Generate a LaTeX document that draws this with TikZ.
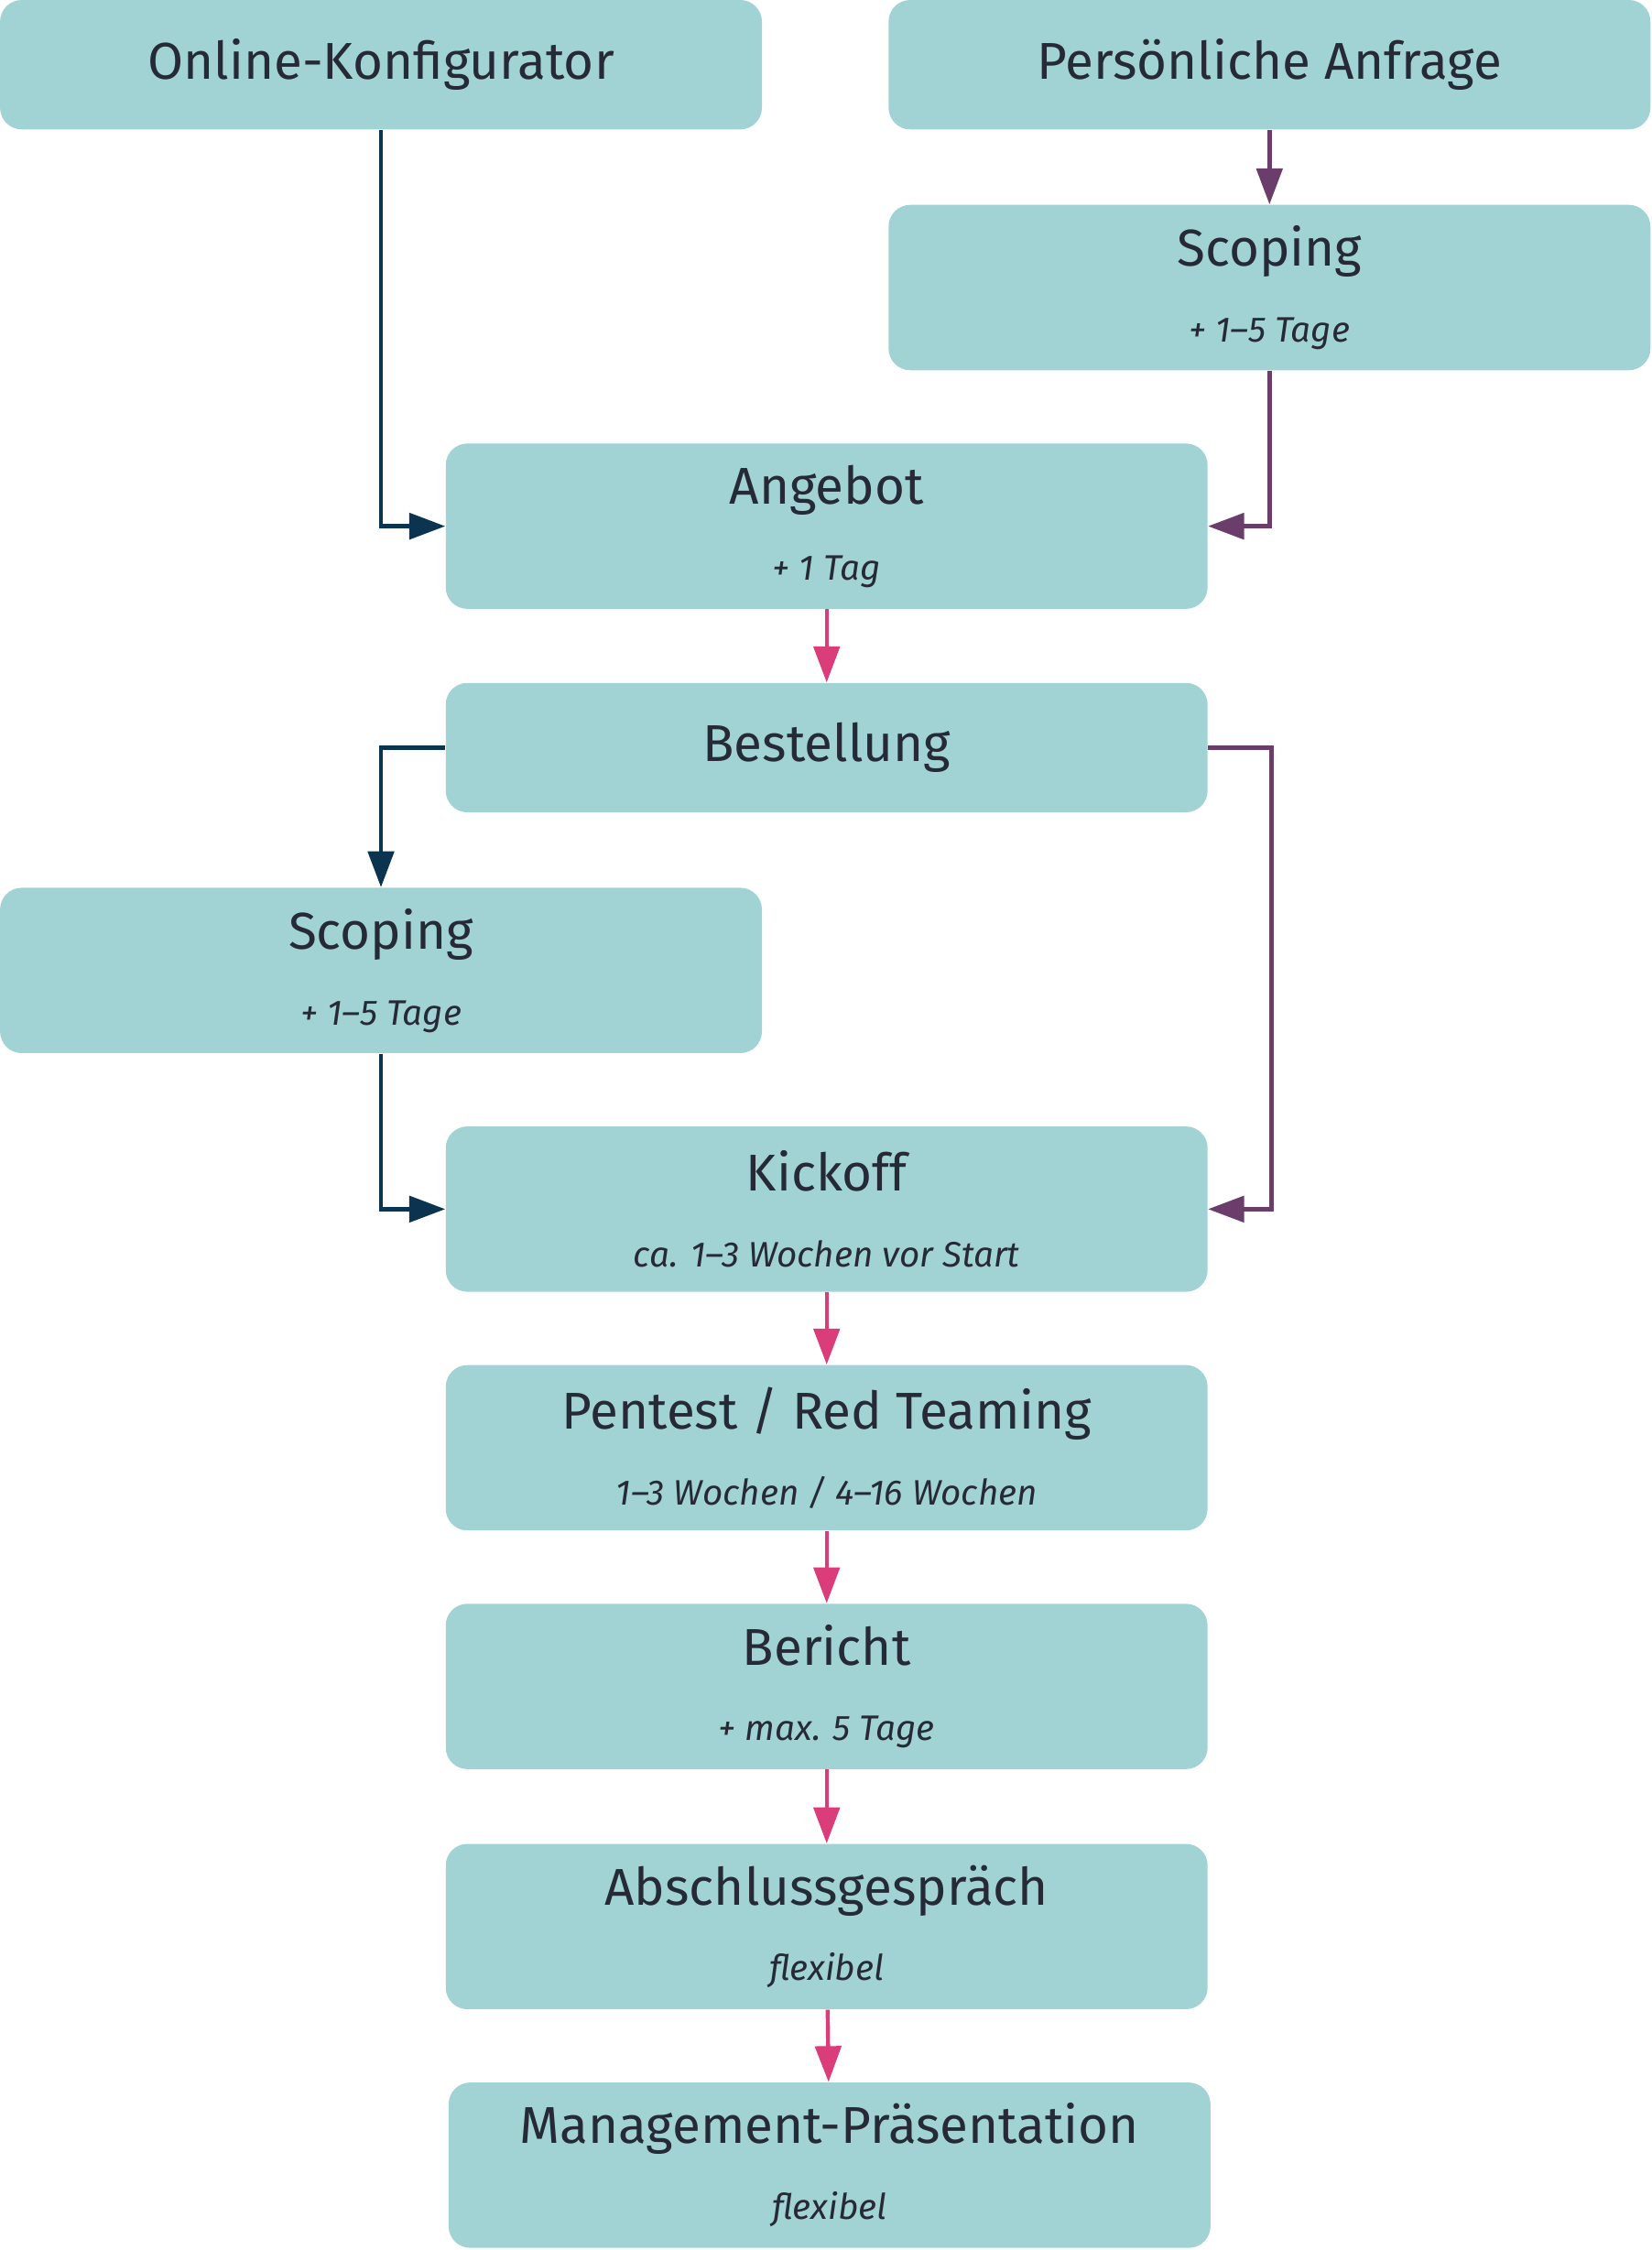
\documentclass[tikz,border=0pt]{standalone}
\usepackage{fontspec}
\setmainfont{Fira Sans}
\usetikzlibrary{arrows.meta, positioning}
\definecolor{boxfill}{HTML}{A2D3D4}
\definecolor{boxtext}{HTML}{262A36}
\definecolor{navy}{HTML}{0B3450}
\definecolor{lila}{HTML}{6B3D6B}
\definecolor{pink}{HTML}{DB3D7A}
\newcommand{\subline}[1]{\\[6pt]{\fontsize{14}{16}\selectfont\itshape #1}}

\begin{document}
\begin{tikzpicture}[
    x=0.02cm, y=-0.02cm,
    stage/.style={rectangle, fill=boxfill, rounded corners=0.3cm, minimum width=10.6cm, minimum height=2.3cm, align=center, text=boxtext, font=\fontsize{20.5}{24}\selectfont, inner sep=0pt},
    flat/.style={stage, minimum height=1.8cm},
    arrow/.style={-{Triangle[length=0.5cm, width=0.36cm]}, line width=1.6pt},
]
\useasboundingbox (0,0) rectangle (1149,1565);

% Entry points
\node[flat] (konfig) at (265,45) {Online-Konfigurator};
\node[flat] (anfrage) at (883,45) {Persönliche Anfrage};
\node[stage] (scoping1) at (883,200) {Scoping\subline{+ 1–5 Tage}};

% Offer and order
\node[stage] (angebot) at (575,366) {Angebot\subline{+ 1 Tag}};
\node[flat] (bestellung) at (575,520) {Bestellung};
\node[stage] (scoping2) at (265,675) {Scoping\subline{+ 1–5 Tage}};

% Project flow
\node[stage] (kickoff) at (575,841) {Kickoff\subline{ca. 1–3 Wochen vor Start}};
\node[stage] (pentest) at (575,1007) {Pentest / Red Teaming\subline{1–3 Wochen / 4–16 Wochen}};
\node[stage] (bericht) at (575,1173) {Bericht\subline{+ max. 5 Tage}};
\node[stage] (abschluss) at (575,1340) {Abschlussgespräch\subline{flexibel}};
\node[stage] (management) at (577,1506) {Management-Präsentation\subline{flexibel}};

% Connectors
\draw[arrow, navy] (konfig.south) |- (angebot.west);
\draw[arrow, lila] (anfrage) -- (scoping1);
\draw[arrow, lila] (scoping1.south) |- (angebot.east);
\draw[arrow, pink] (angebot) -- (bestellung);
\draw[arrow, navy] (bestellung.west) -| (scoping2.north);
\draw[arrow, lila] (bestellung.east) -- ++(44,0) |- (kickoff.east);
\draw[arrow, navy] (scoping2.south) |- (kickoff.west);
\draw[arrow, pink] (kickoff) -- (pentest);
\draw[arrow, pink] (pentest) -- (bericht);
\draw[arrow, pink] (bericht) -- (abschluss);
\draw[arrow, pink] (abschluss) -- (management);

\end{tikzpicture}
\end{document}
